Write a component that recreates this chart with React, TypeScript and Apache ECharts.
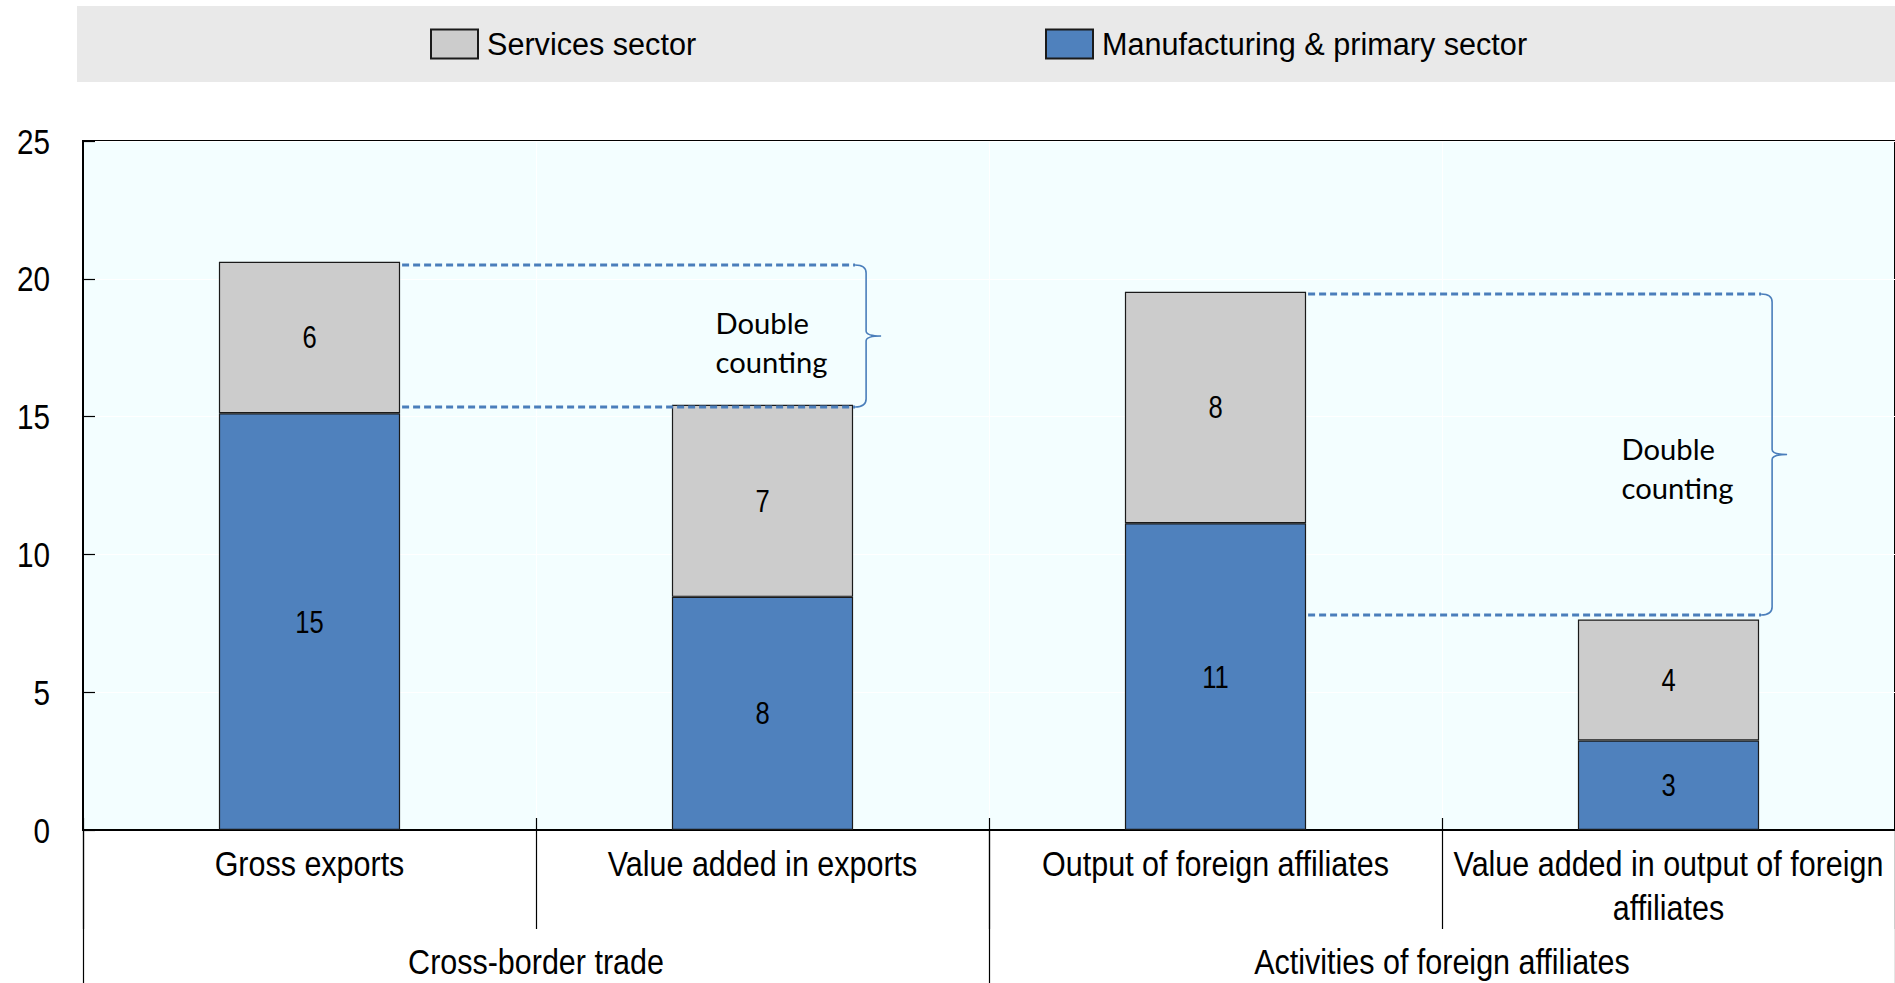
import React, { useEffect, useRef } from "react";
import * as echarts from "echarts";

// ---- data ----
const categories = [
  "Gross exports",
  "Value added in exports",
  "Output of foreign affiliates",
  "Value added in output of foreign affiliates",
];
const groups = ["Cross-border trade", "Activities of foreign affiliates"];
const manufacturing = [15.12, 8.46, 11.13, 3.25];
const services = [5.5, 6.97, 8.4, 4.39];
const yTicks = [0, 5, 10, 15, 20, 25];

// "Double counting" brackets: from bar, to bar, upper level, lower level, text level
const bracketFrom = [0, 2];
const bracketTo = [1, 3];
const bracketUpper = [20.5, 19.45];
const bracketLower = [15.35, 7.8];
const bracketTextY = [17.7, 13.15];
const bracketText = "Double\ncounting";

const SERVICES = "Services sector";
const MANUF = "Manufacturing & primary sector";

const SANS = `"Liberation Sans", Arial, sans-serif`;
const NARROW_X = 0.847; // horizontal squeeze emulating a narrow grotesque
const DIGIT_X = 0.825;

export default function App() {
  const ref = useRef<HTMLDivElement>(null);

  useEffect(() => {
    if (!ref.current) return;
    const canvas = document.createElement("canvas");
    const ctx = canvas.getContext("2d") as CanvasRenderingContext2D;

    // legend text (not scalable): match reference width
    ctx.font = `36px ${SANS}`;
    const legendSize = Math.round((36 * 209) / ctx.measureText(SERVICES).width * 10) / 10;

    // wrap category labels to the band width
    const wrap = (s: string, maxW: number) => {
      ctx.font = `36px ${SANS}`;
      const words = s.split(" ");
      const lines: string[] = [];
      let cur = "";
      for (const w of words) {
        const t = cur ? cur + " " + w : w;
        if (ctx.measureText(t).width * NARROW_X > maxW && cur) {
          lines.push(cur);
          cur = w;
        } else cur = t;
      }
      if (cur) lines.push(cur);
      return lines.join("\n");
    };
    const wrapped = categories.map((c) => wrap(c, 446));

    const latoFam = `Lato, "Noto Sans", sans-serif`;
    ctx.font = `29px ${latoFam}`;
    const latoSize = Math.round((29 * 112) / ctx.measureText("counting").width * 10) / 10;

    const chart = echarts.init(ref.current, null, { renderer: "svg" });

    const bracketData = bracketFrom.map((f, i) => [
      f,
      bracketTo[i],
      bracketUpper[i],
      bracketLower[i],
      bracketTextY[i],
    ]);

    const blue = "#4A7EBB";

    const bracketRender = (params: any, api: any) => {
      const from = api.value(0);
      const to = api.value(1);
      const up = api.value(2);
      const lo = api.value(3);
      const ty = api.value(4);
      const half = api.size([1, 0])[0] * 0.2;
      const pUp = api.coord([from, up]);
      const pLo = api.coord([from, lo]);
      const qUp = api.coord([to, up]);
      const qT = api.coord([to, ty]);
      const x0 = pUp[0] + half + 2;
      const xe = qUp[0] + half + 2;
      const xv = xe + 11;
      const xt = xe + 26;
      const yU = pUp[1];
      const yL = pLo[1];
      const ym = (yU + yL) / 2;
      const r = 8;
      const r2 = 5;
      const d =
        `M${xe} ${yU} Q${xv} ${yU} ${xv} ${yU + r} L${xv} ${ym - r2} ` +
        `Q${xv} ${ym} ${xt} ${ym} Q${xv} ${ym} ${xv} ${ym + r2} ` +
        `L${xv} ${yL - r} Q${xv} ${yL} ${xe} ${yL}`;
      return {
        type: "group",
        children: [
          {
            type: "line",
            shape: { x1: x0, y1: yU, x2: xe, y2: yU },
            style: { stroke: blue, lineWidth: 3, lineDash: [7, 4] },
          },
          {
            type: "line",
            shape: { x1: x0, y1: yL, x2: xe, y2: yL },
            style: { stroke: blue, lineWidth: 3, lineDash: [7, 4] },
          },
          {
            type: "path",
            shape: { pathData: d },
            style: { stroke: blue, lineWidth: 1.6, fill: "none" },
          },
          {
            type: "text",
            x: qT[0] - 47,
            y: qT[1],
            style: {
              text: bracketText,
              fontFamily: latoFam,
              fontSize: latoSize,
              lineHeight: 39,
              fill: "#000",
              align: "left",
              verticalAlign: "middle",
            },
          },
        ],
      };
    };

    const narrowText = (
      x: number,
      y: number,
      text: string,
      size: number,
      sx: number,
      align: string,
      vAlign: string,
      lineHeight?: number
    ) => ({
      type: "text",
      x,
      y,
      scaleX: sx,
      style: {
        text,
        fontFamily: SANS,
        fontSize: size,
        lineHeight: lineHeight || size * 1.15,
        fill: "#000",
        align,
        verticalAlign: vAlign,
      },
    });

    // category labels under bars
    const catRender = (params: any, api: any) => {
      const p = api.coord([api.value(0), 0]);
      return narrowText(p[0], p[1] + 12, wrapped[params.dataIndex], 36, NARROW_X, "center", "top", 44);
    };
    // group labels
    const groupRender = (params: any, api: any) => {
      const p = api.coord([api.value(0), 0]);
      return narrowText(p[0], p[1] + 132, groups[params.dataIndex], 36, NARROW_X, "center", "middle", 40);
    };
    // y tick labels
    const yLabRender = (params: any, api: any) => {
      const v = api.value(1);
      const p = api.coord([0, v]);
      return narrowText(params.coordSys.x - 33, p[1], String(v), 36, DIGIT_X, "right", "middle", 40);
    };
    // value labels inside segments
    const valRender = (params: any, api: any) => {
      const p = api.coord([api.value(0), api.value(1)]);
      return narrowText(p[0], p[1], String(Math.round(api.value(2))), 31, DIGIT_X, "center", "middle", 34);
    };

    const valueLabelData = [
      ...manufacturing.map((m, i) => [i, m / 2, m]),
      ...services.map((s, i) => [i, manufacturing[i] + s / 2, s]),
    ];

    const legendCommon = {
      top: 23,
      padding: 0,
      itemWidth: 47,
      itemHeight: 29,
      itemGap: 0,
      icon: "rect",
      selectedMode: false,
      textStyle: {
        fontSize: legendSize,
        lineHeight: 36,
        color: "#000",
        fontFamily: SANS,
        padding: [6, 0, 0, 4],
      },
    };

    const tickStyle = { color: "#000", width: 1.2 };
    const textSeries = (name: string, xIdx: number, data: any[], renderItem: any) => ({
      name,
      type: "custom",
      xAxisIndex: xIdx,
      yAxisIndex: 0,
      data,
      encode: { x: 0, y: 1 },
      renderItem,
      z: 6,
      clip: false,
      silent: true,
    });

    const option: any = {
      animation: false,
      backgroundColor: "#ffffff",
      textStyle: { fontFamily: SANS, color: "#000" },
      graphic: [
        {
          type: "rect",
          z: 0,
          silent: true,
          shape: { x: 77, y: 6, width: 1830, height: 76 },
          style: { fill: "#E9E9E9" },
        },
      ],
      legend: [
        { ...legendCommon, left: 430, data: [SERVICES] },
        { ...legendCommon, left: 1045, data: [MANUF] },
      ],
      grid: {
        left: 83,
        top: 141,
        right: -2,
        bottom: 153,
        show: true,
        backgroundColor: "#F3FEFF",
        borderColor: "#000",
        borderWidth: 2,
        containLabel: false,
      },
      xAxis: [
        {
          type: "category",
          data: categories,
          position: "bottom",
          axisLine: { show: true, onZero: true, lineStyle: { color: "#000", width: 2 } },
          axisTick: { show: true, length: 99, lineStyle: tickStyle },
          axisLabel: { show: false },
          splitLine: { show: true, lineStyle: { color: "#FFFFFF", width: 1 } },
        },
        {
          type: "category",
          data: groups,
          position: "bottom",
          axisLine: { show: false },
          axisTick: { show: true, length: 153, lineStyle: tickStyle },
          axisLabel: { show: false },
          splitLine: { show: false },
        },
        {
          type: "category",
          data: categories,
          position: "bottom",
          axisLine: { show: false },
          axisTick: { show: true, inside: true, length: 12, lineStyle: tickStyle },
          axisLabel: { show: false },
          splitLine: { show: false },
        },
      ],
      yAxis: {
        type: "value",
        min: yTicks[0],
        max: yTicks[yTicks.length - 1],
        interval: yTicks[1] - yTicks[0],
        axisLine: { show: true, lineStyle: { color: "#000", width: 2 } },
        axisTick: { show: true, inside: true, length: 12, lineStyle: tickStyle },
        axisLabel: { show: false },
        splitLine: { show: true, lineStyle: { color: "#FFFFFF", width: 1 } },
      },
      series: [
        {
          name: MANUF,
          type: "bar",
          stack: "total",
          data: manufacturing,
          barWidth: "40%",
          itemStyle: { color: "#4F81BD", borderColor: "#1a1a1a", borderWidth: 1.2 },
        },
        {
          name: SERVICES,
          type: "bar",
          stack: "total",
          data: services,
          barWidth: "40%",
          itemStyle: { color: "#CCCCCC", borderColor: "#1a1a1a", borderWidth: 1.2 },
        },
        {
          name: "Double counting",
          type: "custom",
          data: bracketData,
          encode: { x: 0, y: 2 },
          renderItem: bracketRender,
          z: 5,
          clip: false,
          silent: true,
        },
        textSeries("Value labels", 0, valueLabelData, valRender),
        textSeries("Category labels", 0, categories.map((_, i) => [i, 0]), catRender),
        textSeries("Group labels", 1, groups.map((_, i) => [i, 0]), groupRender),
        textSeries("Y labels", 0, yTicks.map((v) => [0, v]), yLabRender),
      ],
    };

    chart.setOption(option);
    return () => {
      chart.dispose();
    };
  }, []);

  return (
    <div
      ref={ref}
      style={{ position: "fixed", left: 0, top: 0, width: 1895, height: 983, background: "#fff" }}
    />
  );
}
